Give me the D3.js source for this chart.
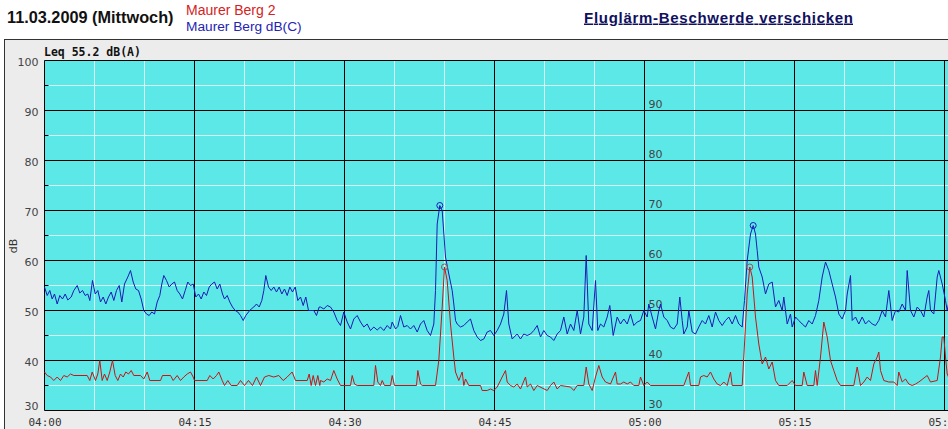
<!DOCTYPE html>
<html><head><meta charset="utf-8">
<script src="https://cdn.jsdelivr.net/npm/d3@7"></script>
<style>
html,body{margin:0;padding:0;background:#fff;overflow:hidden}
svg{display:block}
</style></head><body>
<svg id="c" width="948" height="429"></svg>
<script>
// minutes after 04:00, dB
const dbcSeries = [
[0,54.7],[0.27,53],[0.53,54],[0.77,52.3],[1.0,53.3],[1.27,51.3],[1.53,53],[1.8,52.3],[2.07,53.3],[2.33,52.1],[2.67,52.7],[2.93,54],[3.27,55],[3.53,53.5],[3.8,54],[4.07,53],[4.33,53.3],[4.53,52],[4.8,56],[5.07,53.3],[5.33,54],[5.6,51.7],[5.87,52.7],[6.13,51.3],[6.4,52.7],[6.67,53.7],[6.93,52],[7.2,54],[7.47,55],[7.73,51.7],[8.0,55.3],[8.33,56.7],[8.6,58],[8.87,55.7],[9.13,54.3],[9.4,54],[9.67,52.3],[9.93,50],[10.2,49.3],[10.47,49],[10.73,49.7],[11.0,49.3],[11.27,51.7],[11.53,53],[11.73,55.3],[11.93,57],[12.2,56],[12.47,54.7],[12.73,55.3],[13.0,55.7],[13.27,54],[13.53,53.3],[13.8,52.3],[14.07,54],[14.33,55.7],[14.6,55],[14.87,55.3],[15.13,52.7],[15.4,53.3],[15.67,52.3],[15.93,53.7],[16.2,53],[16.47,54.7],[16.73,55.3],[17.0,55.7],[17.27,54.3],[17.53,55.3],[17.8,53.3],[18.0,52.3],[18.27,53],[18.53,51.7],[18.8,50.7],[19.07,50],[19.33,49.7],[19.6,49],[19.87,48],[20.13,49],[20.4,49.7],[20.67,50.3],[20.93,50.7],[21.2,51.3],[21.47,50.7],[21.73,52],[21.93,54],[22.13,57],[22.4,54.7],[22.67,54],[22.93,54.7],[23.2,53.7],[23.47,54.7],[23.73,53.3],[24.0,54.3],[24.27,53],[24.53,54.7],[24.8,53.7],[25.07,54.7],[25.33,52],[25.6,52.7],[25.87,51],[26.13,52.7],[26.4,50],[26.67,50],[26.93,50],[27.2,49],[27.47,50.7],
[27.6,50.7],[27.93,50.3],[28.27,51],[28.6,50.7],[28.93,49.7],[29.27,48],[29.6,47],[29.93,49.7],[30.27,47.7],[30.6,46.3],[30.93,48.3],[31.27,49],[31.6,47.7],[31.93,46.7],[32.27,47.3],[32.6,46],[32.93,46.7],[33.27,46.1],[33.6,46.7],[33.93,46],[34.27,47],[34.6,46.3],[34.77,47.7],[35.1,46.3],[35.33,46.8],[35.6,49],[35.93,46.7],[36.27,47],[36.6,46.3],[36.93,47],[37.27,45.7],[37.6,47.3],[37.93,48],[38.27,46],[38.6,45],[38.93,47.3],[39.1,54],[39.27,67.3],[39.53,71],[39.77,70],[40.1,60.7],[40.43,57.3],[40.77,54],[40.93,51.3],[41.1,48],[41.27,47.3],[41.6,46.7],[41.93,47],[42.27,47.7],[42.6,48.3],[42.93,46],[43.27,44.7],[43.6,44],[43.93,44.3],[44.27,45.7],[44.6,46],[44.93,45],[45.27,46],[45.6,47.3],[45.93,49.3],[46.2,54],[46.43,47.3],[46.77,44.3],[47.27,45.3],[47.6,44.3],[47.93,45.3],[48.27,45],[48.6,45.3],[48.93,46],[49.27,47],[49.6,44.7],[49.93,46],[50.27,45],[50.6,44.7],[50.93,44],[51.27,45.3],[51.6,46],[51.93,48.7],[52.27,45.3],[52.6,47.3],[52.93,46],[53.27,50],[53.6,45.3],[53.93,48.7],[54.17,61],[54.43,47.3],[54.77,46],[55.1,56],[55.33,46],[55.6,47.3],[55.93,46.7],[56.27,48.7],[56.53,51],[56.87,45],[57.27,48.7],[57.6,47.3],[57.93,48.3],[58.27,47.3],[58.6,49.3],[58.93,47],[59.27,47.7],
[59.6,48],[59.93,50],[60.27,48.7],[60.43,51.3],[60.77,48.7],[61.1,46.3],[61.43,50],[61.6,51.3],[61.93,48.7],[62.27,48],[62.6,46.7],[62.93,46.3],[63.27,47.3],[63.53,52.7],[63.77,48],[63.93,45.3],[64.27,46.7],[64.43,50],[64.77,45.7],[65.1,45.3],[65.43,46.7],[65.77,48],[66.1,47.3],[66.43,49],[66.77,46.7],[67.1,49.7],[67.43,48],[67.77,47],[68.1,48],[68.43,48.7],[68.77,47.3],[69.1,49],[69.43,47.3],[69.77,46.7],[70.0,52],[70.27,60],[70.6,65.3],[70.87,67],[71.1,65.3],[71.27,62],[71.43,58.7],[71.77,56.7],[72.1,53.3],[72.43,55.3],[72.77,55.7],[73.1,50.7],[73.43,52],[73.77,50],[73.93,52.7],[74.27,47.3],[74.6,49.3],[74.77,46.7],[75.1,48.7],[75.43,48],[75.77,47.3],[76.1,46.7],[76.43,48],[76.77,47.3],[77.1,49],[77.43,52],[77.77,56.7],[78.1,59.7],[78.43,58],[78.77,55.3],[79.1,52.7],[79.43,49.3],[79.77,48.3],[80.1,50],[80.27,53.3],[80.6,57],[80.77,48],[81.1,48.7],[81.43,47.3],[81.77,48.7],[82.1,47.3],[82.43,48],[82.77,47.3],[83.1,47],[83.43,48],[83.77,50],[84.1,48.7],[84.43,54],[84.77,48],[85.1,50],[85.43,49.7],[85.77,51.3],[86.1,50],[86.27,58],[86.6,50],[86.93,48.7],[87.27,50.7],[87.6,50],[87.93,48.7],[88.27,52.7],[88.43,54],[88.6,50],[88.93,49.3],[89.27,56.7],[89.43,58],[89.77,55.3],[90.1,52],[90.27,50],[90.4,51.3],[90.6,50.5]
];
const berg2Series = [
[0,37.7],[0.27,37],[0.6,36.7],[0.93,36],[1.27,36.7],[1.6,36],[1.93,37],[2.27,36.7],[2.6,37.3],[2.93,37],[4.27,37],[4.53,36],[4.77,37.7],[5.1,36],[5.33,37.3],[5.53,40],[5.77,36],[6.0,37.3],[6.27,36],[6.53,37.7],[6.8,40],[7.07,37],[7.33,36],[7.6,37.3],[7.87,36.7],[8.13,37.7],[8.4,37.3],[8.67,38],[8.93,37],[9.6,37],[9.93,36.3],[10.27,37.7],[10.53,36],[11.6,36],[11.8,37],[12.6,37],[12.87,36],[13.27,37],[13.6,36],[13.93,36.7],[14.27,37.3],[14.6,37.7],[14.87,36.7],[15.0,36],[16.27,36],[16.53,37],[16.87,36.3],[17.2,37],[17.43,37.7],[17.77,36],[18.0,35],[18.33,36],[18.67,35],[19.27,35],[19.6,36],[20.0,35],[20.4,36],[20.8,35],[21.2,36.7],[21.6,35],[22.0,36.7],[22.43,37],[22.93,36.7],[23.43,37],[23.87,36],[24.27,36.7],[24.77,37.7],[25.1,36],[26.27,36],[26.47,37.3],[26.67,35],[26.87,37],[27.1,35],[27.33,37],[27.53,35],
[27.6,36],[27.93,35.7],[28.27,36.3],[28.6,36],[28.93,38],[29.27,36.3],[29.6,35],[30.6,35],[30.77,37],[31.0,35.3],[31.27,35],[32.93,35],[33.1,39],[33.33,35.7],[33.6,35],[33.77,36],[34.0,35],[34.6,35],[34.77,37],[35.0,35],[37.2,35],[37.33,38],[37.6,35.3],[37.77,35],[39.1,35],[39.43,40],[39.77,50.7],[40.0,58.7],[40.27,56],[40.6,47.3],[40.93,40.7],[41.1,37.7],[41.43,36],[41.77,37.7],[41.93,35],[42.1,36.3],[42.43,35],[43.6,35],[43.77,34],[44.27,34],[44.6,34.3],[44.93,34],[45.27,34.7],[45.77,36.7],[46.1,38],[46.27,35.7],[46.6,35],[46.93,34.7],[47.27,35.3],[47.6,34.3],[48.1,36.7],[48.27,34.7],[48.6,35.3],[48.93,34],[49.27,35],[50.27,34],[50.6,35],[50.93,35.7],[51.27,34.3],[51.6,35],[52.6,34.7],[52.93,34],[53.27,35],[53.93,35],[54.17,38.7],[54.43,35.3],[54.77,34],[55.1,36.7],[55.43,39],[55.77,36.7],[56.1,35.7],[56.6,35.3],[57.1,37.7],[57.27,35.3],[57.6,35.3],[57.93,35.7],[58.27,35.3],[58.6,35.7],[58.93,35],[59.43,35],
[59.6,36.7],[59.93,35],[60.27,35.7],[60.6,35],[63.93,35],[64.43,37.7],[64.6,35],[65.43,35],[65.6,36.7],[65.93,37],[66.27,36.7],[66.6,37.7],[66.93,36.3],[67.27,35.3],[67.6,35],[67.93,35.7],[68.27,35],[68.6,37.7],[68.77,35],[69.77,35],[69.93,40.7],[70.27,53.3],[70.53,58.7],[70.77,56.7],[71.1,48.7],[71.43,43.3],[71.77,39.3],[72.1,40.7],[72.43,38.3],[72.77,39.7],[73.1,36],[73.43,35],[74.27,35],[74.77,36],[75.1,35],[75.77,35],[75.93,37.7],[76.27,35],[76.93,35],[77.1,38],[77.27,35],[77.6,40.7],[77.93,47.7],[78.27,44.7],[78.6,40],[78.93,38],[79.27,36],[79.6,35],[80.93,35],[81.27,38.7],[81.6,35],[81.93,35.7],[82.27,36.7],[82.6,36],[82.93,39.3],[83.27,40.7],[83.43,41.7],[83.6,38],[83.93,36],[84.43,35.7],[84.93,35.7],[85.27,35],[85.43,37.7],[85.77,35.7],[86.1,36.3],[86.43,35.3],[86.77,35],[87.1,35.3],[87.43,35.7],[88.27,37],[88.6,35.7],[89.27,36],[89.6,40.7],[89.77,44.7],[89.93,44.7],[90.1,40.7],[90.27,37.3],[90.4,36.7],[90.6,36.5]
];
const peakMarkers = [
  {series:"dbc", t:39.53, v:71},
  {series:"berg2", t:40.0, v:58.7},
  {series:"dbc", t:70.87, v:67},
  {series:"berg2", t:70.53, v:58.7}
];
const timeTicks = [0,15,30,45,60,75,90];
const timeLabels = ["04:00","04:15","04:30","04:45","05:00","05:15","05:30"];
const dbTicks = [30,40,50,60,70,80,90,100];
const innerDbTicks = [30,40,50,60,70,80,90];
const seriesNames = ["Maurer Berg 2","Maurer Berg dB(C)"];
const titleText = "11.03.2009 (Mittwoch)";
const leqText = "Leq 55.2 dB(A)";
const linkText = "Fluglärm-Beschwerde verschicken";

const RED = "#c81414", BLUE = "#1a1ab4";
const svg = d3.select("#c");
const pL = 44.5, pR = 1000, pT = 60.5, pB = 410.5;
const x = d3.scaleLinear().domain([0,90]).range([44.5,944.5]);
const y = d3.scaleLinear().domain([30,100]).range([pB, pT]);

// header
svg.append("text").attr("x",7).attr("y",23).text(titleText)
  .attr("font-family","Liberation Sans, Arial, sans-serif").attr("font-weight","bold").attr("font-size",16.3).attr("fill","#111");
svg.append("text").attr("x",186).attr("y",15).text(seriesNames[0])
  .attr("font-family","Liberation Sans, Arial, sans-serif").attr("font-size",14).attr("fill","#d42222");
svg.append("text").attr("x",186).attr("y",31).text(seriesNames[1])
  .attr("font-family","Liberation Sans, Arial, sans-serif").attr("font-size",13.7).attr("fill","#2424b4");
svg.append("text").attr("x",584).attr("y",22.5).text(linkText)
  .attr("font-family","Liberation Sans, Arial, sans-serif").attr("font-weight","bold").attr("font-size",15)
  .attr("textLength",269).attr("lengthAdjust","spacing")
  .attr("fill","#10105e").attr("text-decoration","underline");

// panel
svg.append("rect").attr("x",4.5).attr("y",39.5).attr("width",1000).attr("height",500)
  .attr("fill","#ececec").attr("stroke","#333").attr("stroke-width",1);

// plot background
svg.append("rect").attr("x",pL).attr("y",pT).attr("width",pR-pL).attr("height",pB-pT)
  .attr("fill","#5de8e8");

const minorT = d3.range(0,95,5).filter(t=>t%15!==0);
const minorV = d3.range(35,100,10);
const gGrid = svg.append("g");
gGrid.selectAll(".vmin").data(minorT).join("line")
  .attr("x1",d=>x(d)).attr("x2",d=>x(d)).attr("y1",pT).attr("y2",pB)
  .attr("stroke","#d6f7f7").attr("stroke-width",1);
gGrid.selectAll(".hmin").data(minorV).join("line")
  .attr("x1",pL).attr("x2",pR).attr("y1",d=>y(d)).attr("y2",d=>y(d))
  .attr("stroke","#d6f7f7").attr("stroke-width",1);
gGrid.selectAll(".htick").data(minorV).join("line")
  .attr("x1",pL).attr("x2",pL+4).attr("y1",d=>y(d)).attr("y2",d=>y(d))
  .attr("stroke","#000").attr("stroke-width",1);
gGrid.selectAll(".vmaj").data(timeTicks).join("line")
  .attr("x1",d=>x(d)).attr("x2",d=>x(d)).attr("y1",pT).attr("y2",pB)
  .attr("stroke","#000").attr("stroke-width",1);
gGrid.selectAll(".hmaj").data(dbTicks).join("line")
  .attr("x1",pL).attr("x2",pR).attr("y1",d=>y(d)).attr("y2",d=>y(d))
  .attr("stroke","#000").attr("stroke-width",1);

// inner axis labels at 05:00
svg.append("g").selectAll("text").data(innerDbTicks).join("text")
  .attr("x",x(60)+4).attr("y",d=>y(d)-3).text(d=>d)
  .attr("font-family","DejaVu Sans, sans-serif").attr("font-size",11).attr("fill","#444");

// y axis (left)
const yAxis = d3.axisLeft(y).tickValues(dbTicks).tickSize(0).tickPadding(6);
const gy = svg.append("g").attr("transform",`translate(${pL},0)`).call(yAxis);
gy.select(".domain").remove();
gy.selectAll("text").attr("font-family","DejaVu Sans, sans-serif").attr("font-size",11).attr("fill","#444")
  .attr("dy",d=>d===30?"-0.1em":"0.45em");

// x axis
const xAxis = d3.axisBottom(x).tickValues(timeTicks).tickFormat((d,i)=>timeLabels[i]).tickSize(0).tickPadding(8);
const gx = svg.append("g").attr("transform",`translate(0,${pB})`).call(xAxis);
gx.select(".domain").remove();
gx.selectAll("text").attr("font-family","DejaVu Sans Mono, monospace").attr("font-size",11).attr("fill","#333");

// y title
svg.append("text").attr("transform","translate(17,246) rotate(-90)").attr("text-anchor","middle").text("dB")
  .attr("font-family","DejaVu Sans, sans-serif").attr("font-size",11).attr("fill","#333");

// Leq
svg.append("text").attr("x",44).attr("y",56).text(leqText)
  .attr("font-family","DejaVu Sans Mono, monospace").attr("font-weight","bold").attr("font-size",11.5).attr("fill","#111");

// lines
const line = d3.line().x(d=>x(d[0])).y(d=>y(d[1]));
svg.append("path").datum(berg2Series).attr("d",line).attr("fill","none").attr("stroke",RED).attr("stroke-width",1);
svg.append("path").datum(dbcSeries).attr("d",line).attr("fill","none").attr("stroke",BLUE).attr("stroke-width",1);

// peak markers
svg.append("g").selectAll("circle").data(peakMarkers).join("circle")
  .attr("cx",d=>x(d.t)).attr("cy",d=>y(d.v)).attr("r",3)
  .attr("fill","none").attr("stroke",d=>d.series==="dbc"?BLUE:"#a05050").attr("stroke-width",1);
</script>
</body></html>
